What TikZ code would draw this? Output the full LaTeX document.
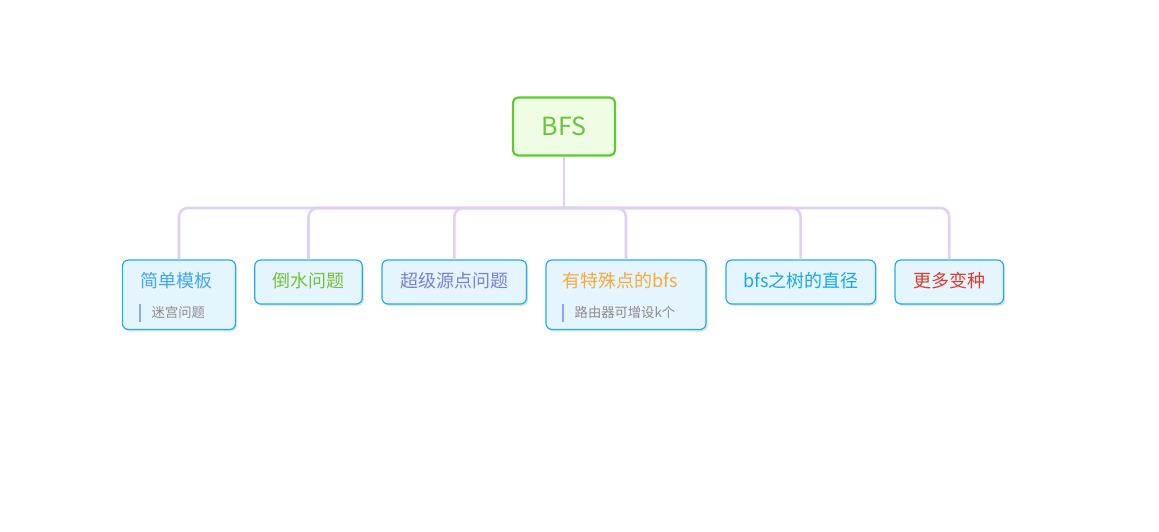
\documentclass[tikz,border=0pt]{standalone}
\usepackage{fontspec}
\setmainfont{Noto Sans CJK SC}
\usetikzlibrary{shadows}
\definecolor{conncol}{HTML}{E0D0F3}
\definecolor{rootborder}{HTML}{5ECB2E}
\definecolor{rootfill}{HTML}{EFFDE5}
\definecolor{roottext}{HTML}{6CC33F}
\definecolor{boxborder}{HTML}{1EAEF5}
\definecolor{boxfill}{HTML}{E5F5FD}
\definecolor{tblue}{HTML}{3FA7F2}
\definecolor{tgreen}{HTML}{72C23A}
\definecolor{tpurple}{HTML}{7C80D2}
\definecolor{torange}{HTML}{F7AA3B}
\definecolor{tcyan}{HTML}{19A6F2}
\definecolor{tred}{HTML}{DF3A2E}
\definecolor{subgray}{HTML}{8C8C8C}
\definecolor{barcol}{HTML}{8DA7F7}
\begin{document}
\begin{tikzpicture}[x=1pt,y=-1pt,
  conn/.style={draw=conncol,line width=2.6pt,rounded corners=9pt},
  rootbox/.style={draw=rootborder,fill=rootfill,line width=2.2pt,rounded corners=5pt,
    minimum width=102pt,minimum height=58pt,inner sep=0pt,
    text=roottext,font=\fontsize{25}{28}\selectfont},
  childbox/.style={draw=boxborder,fill=boxfill,line width=1.2pt,rounded corners=6pt,
    inner sep=0pt,minimum height=44pt,
    drop shadow={shadow xshift=1.5pt,shadow yshift=-2pt,opacity=0.12,fill=black}},
  maintext/.style={inner sep=0pt,font=\fontsize{18}{20}\selectfont},
  subtext/.style={inner sep=0pt,anchor=west,text=subgray,font=\fontsize{13.3}{15}\selectfont},
  subbar/.style={draw=barcol,line width=2.5pt}]
\useasboundingbox (0,0) rectangle (1159,532);
\fill[white] (0,0) rectangle (1159,532);
% root
\node[rootbox] (bfs) at (564,126.5) {BFS};
\coordinate (hub) at (564,208);
% children boxes
\node[childbox,minimum width=113pt,minimum height=69.5pt] (c1) at (179,294.75) {};
\node[childbox,minimum width=107.5pt] (c2) at (308.5,282) {};
\node[childbox,minimum width=144.5pt] (c3) at (454.25,282) {};
\node[childbox,minimum width=160pt,minimum height=69.5pt] (c4) at (626,294.75) {};
\node[childbox,minimum width=149.5pt] (c5) at (800.75,282) {};
\node[childbox,minimum width=108.5pt] (c6) at (949.25,282) {};
% connectors
\draw[conn] (bfs.south) -- (hub);
\draw[conn] (hub) -| (c1.north);
\draw[conn] (hub) -| (c2.north);
\draw[conn] (hub) -| (c3.north);
\draw[conn] (hub) -| (c4.north);
\draw[conn] (hub) -| (c5.north);
\draw[conn] (hub) -| (c6.north);
% texts
\node[maintext,text=tblue] (t1) at (176.5,281) {简单模板};
\node[maintext,text=tgreen] (t2) at (308.5,281) {倒水问题};
\node[maintext,text=tpurple] (t3) at (454.25,281) {超级源点问题};
\node[maintext,text=torange] (t4) at (620.5,281) {有特殊点的bfs};
\node[maintext,text=tcyan] (t5) at (800.75,281) {bfs之树的直径};
\node[maintext,text=tred] (t6) at (949.25,281) {更多变种};
% sub topics
\coordinate (b1a) at (140,304); \coordinate (b1b) at (140,322);
\draw[subbar] (b1a) -- (b1b);
\node[subtext] (s1) at (151.5,312) {迷宫问题};
\coordinate (b4a) at (563,304); \coordinate (b4b) at (563,322);
\draw[subbar] (b4a) -- (b4b);
\node[subtext] (s4) at (574.5,312) {路由器可增设k个};
\end{tikzpicture}
\end{document}
